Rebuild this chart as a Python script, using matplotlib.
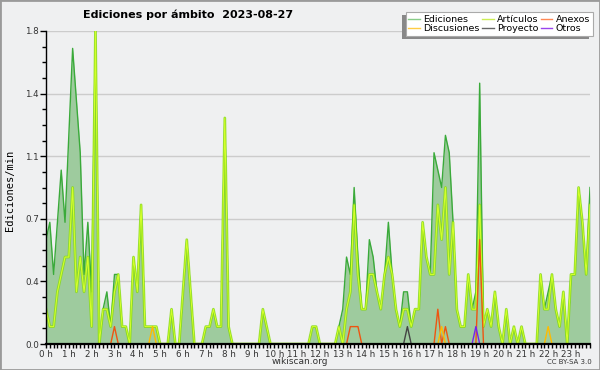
import numpy as np
import matplotlib
matplotlib.use("Agg")
import matplotlib.pyplot as plt
from matplotlib.ticker import MultipleLocator, FixedLocator
from matplotlib.lines import Line2D
from matplotlib.patches import Rectangle

# 10-minute slots over the day, 6 per hour (values in edits/min)
slots = np.arange(144)

ediciones = [
    0.6, 0.7, 0.4, 0.7, 1.0, 0.7,   # 0 h
    1.2, 1.7, 1.4, 1.1, 0.4, 0.7,   # 1 h
    0.3, 1.8, 0.0, 0.2, 0.3, 0.1,   # 2 h
    0.4, 0.4, 0.1, 0.1, 0.0, 0.5,   # 3 h
    0.3, 0.8, 0.1, 0.1, 0.1, 0.1,   # 4 h
    0.0, 0.0, 0.0, 0.2, 0.0, 0.0,   # 5 h
    0.3, 0.6, 0.3, 0.0, 0.0, 0.0,   # 6 h
    0.1, 0.1, 0.2, 0.1, 0.1, 1.3,   # 7 h
    0.1, 0.0, 0.0, 0.0, 0.0, 0.0,   # 8 h
    0.0, 0.0, 0.0, 0.2, 0.1, 0.0,   # 9 h
    0.0, 0.0, 0.0, 0.0, 0.0, 0.0,   # 10 h
    0.0, 0.0, 0.0, 0.0, 0.1, 0.1,   # 11 h
    0.0, 0.0, 0.0, 0.0, 0.0, 0.1,   # 12 h
    0.2, 0.5, 0.4, 0.9, 0.5, 0.2,   # 13 h
    0.2, 0.6, 0.5, 0.3, 0.2, 0.4,   # 14 h
    0.7, 0.4, 0.2, 0.1, 0.3, 0.3,   # 15 h
    0.1, 0.2, 0.2, 0.7, 0.5, 0.4,   # 16 h
    1.1, 1.0, 0.9, 1.2, 1.1, 0.7,   # 17 h
    0.2, 0.1, 0.1, 0.4, 0.2, 0.3,   # 18 h
    1.5, 0.1, 0.2, 0.1, 0.3, 0.1,   # 19 h
    0.0, 0.2, 0.0, 0.1, 0.0, 0.1,   # 20 h
    0.0, 0.0, 0.0, 0.0, 0.4, 0.2,   # 21 h
    0.3, 0.4, 0.2, 0.1, 0.3, 0.0,   # 22 h
    0.4, 0.4, 0.9, 0.7, 0.4, 0.9,   # 23 h
]

articulos = [
    0.2, 0.1, 0.1, 0.3, 0.4, 0.5,
    0.5, 0.9, 0.3, 0.5, 0.3, 0.5,
    0.1, 1.8, 0.0, 0.2, 0.2, 0.1,
    0.3, 0.4, 0.1, 0.1, 0.0, 0.5,
    0.3, 0.8, 0.1, 0.1, 0.1, 0.1,
    0.0, 0.0, 0.0, 0.2, 0.0, 0.0,
    0.3, 0.6, 0.3, 0.0, 0.0, 0.0,
    0.1, 0.1, 0.2, 0.1, 0.1, 1.3,
    0.1, 0.0, 0.0, 0.0, 0.0, 0.0,
    0.0, 0.0, 0.0, 0.2, 0.1, 0.0,
    0.0, 0.0, 0.0, 0.0, 0.0, 0.0,
    0.0, 0.0, 0.0, 0.0, 0.1, 0.1,
    0.0, 0.0, 0.0, 0.0, 0.0, 0.1,
    0.0, 0.2, 0.3, 0.8, 0.4, 0.2,
    0.2, 0.4, 0.4, 0.3, 0.2, 0.4,
    0.5, 0.4, 0.2, 0.1, 0.2, 0.2,
    0.1, 0.2, 0.2, 0.7, 0.5, 0.4,
    0.4, 0.8, 0.6, 0.9, 0.4, 0.7,
    0.2, 0.1, 0.1, 0.4, 0.2, 0.2,
    0.8, 0.1, 0.2, 0.1, 0.3, 0.1,
    0.0, 0.2, 0.0, 0.1, 0.0, 0.1,
    0.0, 0.0, 0.0, 0.0, 0.4, 0.2,
    0.2, 0.4, 0.2, 0.1, 0.3, 0.0,
    0.4, 0.4, 0.9, 0.7, 0.4, 0.8,
]

# small series: (slot, value) where non zero
anexos_pts = [(18, 0.1), (80, 0.1), (81, 0.1), (82, 0.1), (103, 0.2), (105, 0.1), (114, 0.6)]
discusiones_pts = [(28, 0.1), (104, 0.1), (132, 0.1)]
proyecto_pts = [(95, 0.1)]
otros_pts = [(113, 0.1)]

hour_labels = [f"{h} h" for h in range(24)]
y_ticks = [0.0, 0.36, 0.72, 1.08, 1.44, 1.8]


def expand(pairs):
    arr = np.zeros(len(slots))
    for i, v in pairs:
        arr[i] = v
    return arr


anexos = expand(anexos_pts)
discusiones = expand(discusiones_pts)
proyecto = expand(proyecto_pts)
otros = expand(otros_pts)

bg = '#eff0f1'
fig = plt.figure(figsize=(6, 3.7), dpi=100, facecolor=bg)
ax = fig.add_axes([46 / 600, 26 / 370, 544 / 600, 313 / 370])
ax.set_facecolor(bg)

ax.fill_between(slots, ediciones, color='#9ecb9e', lw=0, zorder=1)
ax.plot(slots, ediciones, color='#3aaa3a', lw=1, zorder=3)
ax.plot(slots, articulos, color='#80dc00', lw=2.0, alpha=0.7, zorder=4)
ax.plot(slots, articulos, color='#d4ff2a', lw=0.8, zorder=4)
ax.plot(slots, anexos, color='#ee5511', lw=1, zorder=5)
ax.plot(slots, discusiones, color='#ffbb00', lw=1, zorder=5)
ax.plot(slots, proyecto, color='#444444', lw=1, zorder=5)
ax.plot(slots, otros, color='#7722ee', lw=1, zorder=5)

ax.set_xlim(0, 143)
ax.set_ylim(0, 1.8)

ax.xaxis.set_major_locator(FixedLocator(range(0, 144, 6)))
ax.set_xticklabels(hour_labels)
ax.xaxis.set_minor_locator(MultipleLocator(1))
ax.yaxis.set_major_locator(FixedLocator(y_ticks))
ax.set_yticklabels([f"{v:.1f}" for v in y_ticks])
ax.yaxis.set_minor_locator(MultipleLocator(0.09))

ax.tick_params(axis='both', which='both', direction='out', length=3, width=1,
               labelsize=6.3, labelcolor='#333333', pad=1)
ax.tick_params(axis='y', which='major', length=4)

ax.yaxis.grid(True, color='#cccccc', lw=1)
ax.set_axisbelow(True)
for s in ['top', 'right']:
    ax.spines[s].set_visible(False)
ax.spines['left'].set_linewidth(1)
ax.spines['bottom'].set_linewidth(1.6)
ax.spines['left'].set_zorder(6)
ax.spines['bottom'].set_zorder(6)

fig.text(188 / 600, 1 - 15 / 370, "Ediciones por ámbito  2023-08-27",
         ha='center', va='center', fontsize=8, fontweight='bold')
fig.text(10 / 600, 1 - 190 / 370, "Ediciones/min", rotation=90,
         family='DejaVu Sans Mono', fontsize=7.5, ha='center', va='center')
fig.text(300 / 600, 1 - 362 / 370, "wikiscan.org", fontsize=6.5,
         ha='center', va='center', color='#333333')
fig.text(569 / 600, 1 - 362 / 370, "CC BY-SA 3.0", fontsize=5,
         ha='center', va='center', color='#333333')

# legend, filled row by row
handles = [
    Line2D([], [], color='#88cc88', lw=1), Line2D([], [], color='#ffcc44', lw=1),
    Line2D([], [], color='#ccee55', lw=1), Line2D([], [], color='#666666', lw=1),
    Line2D([], [], color='#ff8855', lw=1), Line2D([], [], color='#9944ee', lw=1),
]
labels = ["Ediciones", "Discusiones", "Artículos", "Proyecto", "Anexos", "Otros"]
leg = fig.legend(handles, labels, ncol=3, loc='upper right',
                 bbox_to_anchor=(593 / 600, 1 - 12 / 370), fontsize=6.8,
                 frameon=True, fancybox=False, edgecolor='#aaaaaa',
                 facecolor='white', framealpha=1, handlelength=1.2,
                 handletextpad=0.35, columnspacing=0.3, labelspacing=0.05,
                 borderpad=0.3, borderaxespad=0)
leg.get_frame().set_linewidth(0.8)

fig.canvas.draw()
bb = leg.get_window_extent()
shadow = Rectangle((bb.x0 - 4, bb.y0 - 3), bb.width, bb.height, transform=None,
                   facecolor='#888888', edgecolor='none', zorder=leg.get_zorder() - 0.5)
fig.add_artist(shadow)

fig.add_artist(Rectangle((0, 0), 1, 1, transform=fig.transFigure, fill=False,
                         edgecolor='#9a9a9a', lw=2))

fig.savefig("out.png", dpi=100, facecolor=bg)
